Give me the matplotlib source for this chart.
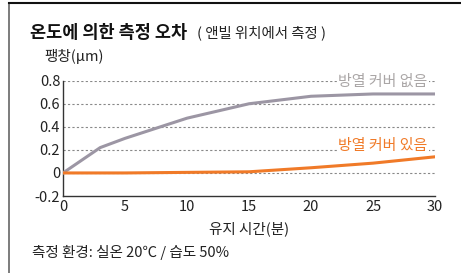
import matplotlib
matplotlib.use("Agg")
import matplotlib.pyplot as plt
from matplotlib.lines import Line2D

plt.rcParams['font.family'] = ['Noto Sans CJK KR', 'DejaVu Sans']

time_min = [0, 3, 5, 10, 15, 20, 25, 30]
no_cover = [0, 0.22, 0.30, 0.475, 0.60, 0.665, 0.685, 0.685]
with_cover = [0, 0, 0, 0.005, 0.01, 0.045, 0.085, 0.14]
y_ticks = [-0.2, 0, 0.2, 0.4, 0.6, 0.8]
y_tick_labels = ['-0.2', '0', '0.2', '0.4', '0.6', '0.8']
x_ticks = [0, 5, 10, 15, 20, 25, 30]

gray = '#9c96a4'
orange = '#f07a28'

fig = plt.figure(figsize=(4.61, 2.73), dpi=100)
ax = fig.add_axes([0.1367, 0.282, 0.8069, 0.4224])

for yv in [0, 0.2, 0.4, 0.6, 0.8]:
    ax.axhline(yv, color='#888888', lw=0.8, ls=(0, (2, 2)), zorder=1)

ax.plot(time_min, no_cover, color=gray, lw=2.2, zorder=3)
ax.plot(time_min, with_cover, color=orange, lw=2.2, zorder=3)

ax.set_xlim(0, 30)
ax.set_ylim(-0.2, 0.8)
ax.set_xticks(x_ticks)
ax.set_xticklabels([str(v) for v in x_ticks])
ax.set_yticks(y_ticks)
ax.set_yticklabels(y_tick_labels)
ax.tick_params(axis='x', length=0, labelsize=10.5, colors='#222222', pad=3)
ax.tick_params(axis='y', length=0, labelsize=10.5, colors='#222222', pad=2)
for s in ['top', 'right']:
    ax.spines[s].set_visible(False)
for s in ['left', 'bottom']:
    ax.spines[s].set_color('#333333')
    ax.spines[s].set_linewidth(1.0)

bb = dict(facecolor='white', edgecolor='none', pad=1.0)
ax.text(29.4, 0.79, '방열 커버 없음', color='#aaa6a6', fontsize=10.8,
        ha='right', va='center', bbox=bb, zorder=4)
ax.text(29.4, 0.235, '방열 커버 있음', color=orange, fontsize=10.8,
        ha='right', va='center', bbox=bb, zorder=4)

ax.set_xlabel('유지 시간(분)', fontsize=10.5, color='#222222', labelpad=5)

fig.text(30/461, 1 - 33/273, '온도에 의한 측정 오차', fontsize=12.6, fontweight='bold',
         ha='left', va='center', color='#111111')
fig.text(197/461, 1 - 33/273, '( 앤빌 위치에서 측정 )', fontsize=10.4,
         ha='left', va='center', color='#222222')
fig.text(44/461, 1 - 57/273, '팽창(μm)', fontsize=10.5, ha='left', va='center',
         color='#222222')
fig.text(32/461, 1 - 252/273, '측정 환경: 실온 20℃ / 습도 50%', fontsize=10.5,
         ha='left', va='center', color='#222222')

fig.add_artist(Line2D([9/461, 9/461], [0, 1 - 3/273], transform=fig.transFigure,
                      color='#666666', lw=1.2))
fig.add_artist(Line2D([9/461, 1], [1 - 3/273, 1 - 3/273], transform=fig.transFigure,
                      color='#111111', lw=1.5))

fig.savefig('out.png', dpi=100)
